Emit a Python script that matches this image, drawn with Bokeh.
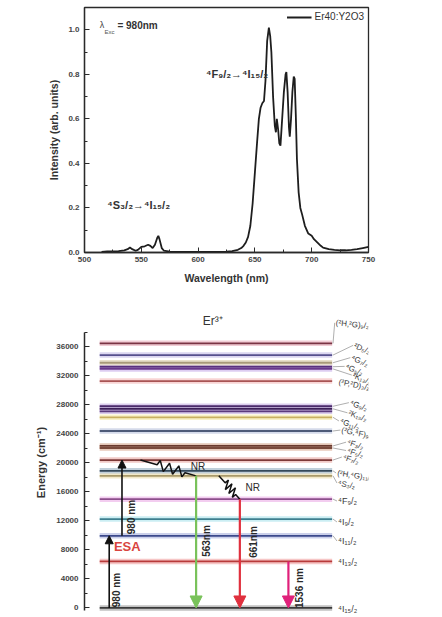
import math
from bokeh.plotting import figure
from bokeh.layouts import column
from bokeh.models import (Label, Arrow, NormalHead, SingleIntervalTicker,
                          NumeralTickFormatter)
from bokeh.embed import file_html
from bokeh.resources import INLINE

# ---------------- data: upconversion emission spectrum ----------------
wavelength = [515, 520, 525, 530, 535, 538, 540, 542, 545, 547, 550, 553, 556, 558,
              560, 562, 564, 565, 566, 568, 570, 575, 580, 590, 600, 610, 620, 625,
              630, 635, 638, 640, 642, 644, 646, 648, 650, 652, 653.5, 655, 656.5,
              658, 659.3, 660.8, 662.3, 663.5, 664.5, 666, 667.5, 668.5, 669.3,
              670.5, 671.5, 672.5, 674, 675.5, 677, 677.7, 678.8, 680, 680.7, 681.8,
              683, 684.2, 685, 686, 687, 688.5, 690, 691.6, 694, 697, 700, 702, 704,
              706, 708, 710, 715, 720, 725, 730, 735, 740, 745, 750]
intensity = [0.003, 0.005, 0.005, 0.006, 0.010, 0.015, 0.022, 0.015, 0.008, 0.012,
             0.025, 0.028, 0.035, 0.030, 0.020, 0.035, 0.065, 0.075, 0.060, 0.020,
             0.008, 0.004, 0.003, 0.003, 0.003, 0.003, 0.003, 0.004, 0.006, 0.012,
             0.020, 0.030, 0.045, 0.070, 0.120, 0.220, 0.360, 0.500, 0.600, 0.650,
             0.670, 0.680, 0.770, 0.950, 1.010, 0.970, 0.900, 0.700, 0.570, 0.540,
             0.600, 0.550, 0.490, 0.480, 0.600, 0.720, 0.800, 0.810, 0.720, 0.560,
             0.520, 0.600, 0.720, 0.790, 0.780, 0.620, 0.420, 0.270, 0.200, 0.170,
             0.120, 0.085, 0.075, 0.060, 0.050, 0.040, 0.030, 0.022, 0.015, 0.012,
             0.010, 0.010, 0.012, 0.015, 0.020, 0.025]
series_name = "Er40:Y2O3"

# ---------------- data: Er3+ energy levels ----------------
level_energy = [0, 6420, 9950, 12250, 15000, 18210, 18900, 20390, 22050, 22330,
                24390, 26280, 27100, 27450, 27800, 31270, 32950, 33250, 33800,
                34860, 36470]
level_color = ["#3a3a3a", "#b83a3a", "#3c4a8c", "#3f7f8f", "#8c4f8c", "#a89a6a",
               "#34495a", "#7d3a38", "#7a4a3c", "#6a3a2e", "#4d5a78", "#c8b060",
               "#5a3a7c", "#3c2058", "#4a2a6a", "#a85454", "#6a3a8c", "#58307e",
               "#a89a7a", "#56508e", "#7a3444"]
level_halo = ["#bbbbbb", "#f5c0c0", "#c5cbe8", "#c5ecf2", "#f2c8ee", "#efe6c2",
              "#b9cad6", "#efc3c0", "#e6c4b4", "#e0bfae", "#cfd6e8", "#f7efc0",
              "#d6c6ea", "#cbb8e0", "#d6c6ea", "#f7cfcf", "#d9c8f0", "#d9c8f0",
              "#e8dfc6", "#d6d0ee", "#f0c6d0"]

# term labels: text, label energy position, level it points to, angle
term_text = ["⁴I₁₅/₂", "⁴I₁₃/₂", "⁴I₁₁/₂", "⁴I₉/₂", "⁴F₉/₂", "⁴S₃/₂", "(²H,⁴G)₁₁/₂",
             "⁴F₇/₂", "⁴F₅/₂", "⁴F₃/₂", "(²G,⁴F)₉/₂", "⁴G₁₁/₂", "²K₁₅/₂", "⁴G₉/₂",
             "(²P,²D)₃/₂", "²K₁₃/₂", "⁴G₅/₂", "⁴G₇/₂", "²D₅/₂", "(²H,²G)₉/₂"]
term_pos = [-100, 6340, 9230, 11850, 14740, 17220, 18600, 20800, 21700, 22850,
            24520, 25770, 26900, 28300, 31180, 32100, 33300, 34500, 36200, 39300]
term_level = [0, 6420, 9950, 12250, 15000, 18210, 18900, 20390, 22050, 22330,
              24390, 26280, 27450, 27800, 31270, 32950, 33250, 33800, 34860, 36470]
term_angle = [0, 0, 0, 0, 0, -0.2, -0.15, -0.3, -0.3, -0.3, -0.2, -0.35, -0.35,
              -0.35, -0.2, -0.4, -0.4, -0.4, -0.4, -0.1]
term_x = [89.3, 89.3, 89.3, 89.3, 89.3, 89.3, 89.0, 91.0, 92.5, 92.5, 90.5, 90.0,
          93.0, 93.5, 89.5, 94.5, 92.0, 94.0, 95.0, 88.5]

# transitions: (start level, end level, label)
up_from = [0, 9950]
up_to = [9950, 20390]
up_label = ["980 nm", "980 nm"]
nr_from = [20390, 18210]
nr_to = [18210, 15000]
em_from = [18210, 15000, 6420]
em_to = [0, 0, 0]
em_label = ["563nm", "661nm", "1536 nm"]
em_color = ["#79c25a", "#e0303e", "#e0207a"]

FONT = "Liberation Sans"
DARK = "#2a2a2a"

# ======================= top: spectrum =======================
p1 = figure(width=442, height=300, x_range=(500, 750), y_range=(0, 1.1),
            output_backend="svg", toolbar_location=None,
            min_border_left=84, min_border_right=74, min_border_top=7,
            min_border_bottom=48)
p1.grid.visible = False
p1.outline_line_color = DARK
p1.outline_line_width = 1.3
p1.line(wavelength, intensity, line_color="#1e1e1e", line_width=1.8,
        legend_label=series_name)

p1.xaxis.ticker = SingleIntervalTicker(interval=50, num_minor_ticks=2)
p1.yaxis.ticker = SingleIntervalTicker(interval=0.2, num_minor_ticks=2)
p1.yaxis.formatter = NumeralTickFormatter(format="0.0")
for ax in (p1.xaxis[0], p1.yaxis[0]):
    ax.axis_line_color = DARK
    ax.axis_line_width = 1.3
    ax.major_tick_in = 5
    ax.major_tick_out = 0
    ax.minor_tick_in = 3
    ax.minor_tick_out = 0
    ax.major_tick_line_color = DARK
    ax.minor_tick_line_color = DARK
    ax.major_label_text_font = FONT
    ax.major_label_text_font_size = "8px"
    ax.major_label_text_font_style = "bold"
    ax.major_label_text_color = "#444444"
    ax.axis_label_text_font = FONT
    ax.axis_label_text_font_size = "10.5px"
    ax.axis_label_text_font_style = "bold"
    ax.axis_label_text_color = "#333333"
p1.xaxis.axis_label = "Wavelength (nm)"
p1.yaxis.axis_label = "Intensity (arb. units)"
p1.xaxis.major_label_standoff = 4
p1.yaxis.major_label_standoff = 5
p1.xaxis.axis_label_standoff = 7
p1.yaxis.axis_label_standoff = 5

lg = p1.legend[0]
lg.location = "top_right"
lg.border_line_color = None
lg.background_fill_alpha = 0
lg.label_text_font = FONT
lg.label_text_font_size = "10px"
lg.label_text_color = "#333333"
lg.glyph_width = 25
lg.glyph_height = 10
lg.margin = 4
lg.padding = 2
lg.label_standoff = 3

p1.add_layout(Label(x=513.5, y=1.02, text="λ", text_font=FONT, text_font_size="9px",
                    text_color="#444444", text_baseline="middle"))
p1.add_layout(Label(x=517.5, y=0.99, text="Exc", text_font=FONT, text_font_size="6px",
                    text_color="#555555", text_baseline="middle"))
p1.add_layout(Label(x=529, y=1.02, text="= 980nm", text_font=FONT, text_font_size="10px",
                    text_font_style="bold", text_color="#333333", text_baseline="middle"))
p1.add_layout(Label(x=607, y=0.80, text="⁴F₉/₂→⁴I₁₅/₂", text_font=FONT,
                    text_font_size="11px", text_font_style="bold",
                    text_color="#333333", text_baseline="middle"))
p1.add_layout(Label(x=520, y=0.215, text="⁴S₃/₂→⁴I₁₅/₂", text_font=FONT,
                    text_font_size="11px", text_font_style="bold",
                    text_color="#333333", text_baseline="middle"))

# ======================= bottom: energy level diagram =======================
Y0, Y1 = -900, 41000
SX, SY = 3.74, 304 / float(Y1 - Y0)   # px per data unit (used only to shape zigzags)
p2 = figure(width=442, height=317, x_range=(0, 100), y_range=(Y0, Y1),
            output_backend="svg", toolbar_location=None, x_axis_type=None,
            min_border_left=68, min_border_right=0, min_border_top=10,
            min_border_bottom=3)
p2.grid.visible = False
p2.outline_line_color = None

XS, XE = 5.35, 87.2
n = len(level_energy)
p2.segment(x0=[XS] * n, x1=[XE] * n, y0=level_energy, y1=level_energy,
           line_color=level_halo, line_width=5.5, line_alpha=0.9)
p2.segment(x0=[XS] * n, x1=[XE] * n, y0=level_energy, y1=level_energy,
           line_color=level_color, line_width=1.8)

ay = p2.yaxis[0]
ay.bounds = (-300, 38000)
ay.ticker = SingleIntervalTicker(interval=4000, num_minor_ticks=2)
ay.axis_line_color = DARK
ay.axis_line_width = 1.5
ay.major_tick_in = 5
ay.major_tick_out = 0
ay.minor_tick_in = 3
ay.minor_tick_out = 0
ay.major_tick_line_color = DARK
ay.minor_tick_line_color = DARK
ay.major_label_text_font = FONT
ay.major_label_text_font_size = "8px"
ay.major_label_text_font_style = "bold"
ay.major_label_text_color = "#444444"
ay.major_label_standoff = 6
ay.axis_label = "Energy (cm⁻¹)"
ay.axis_label_text_font = FONT
ay.axis_label_text_font_size = "11px"
ay.axis_label_text_font_style = "bold"
ay.axis_label_text_color = "#333333"
ay.axis_label_standoff = 6

p2.add_layout(Label(x=45.2, y=39500, text="Er³⁺", text_font=FONT, text_font_size="12px",
                    text_color="#333333", text_align="center", text_baseline="middle"))

# leader lines and term labels
for t, pos, lev, ang, tx in zip(term_text, term_pos, term_level, term_angle, term_x):
    if abs(pos - lev) > 250 or tx > 90:
        p2.line([XE + 0.3, tx - 0.4], [lev, pos], line_color="#9a9a9a", line_width=0.8)
    size = "9px" if ang == 0 else "8px"
    p2.add_layout(Label(x=tx, y=pos, text=t, text_font=FONT, text_font_size=size,
                        text_color="#3a3a3a", text_baseline="middle", angle=ang))

# absorption (up) arrows
up_x = [8.7, 13.2]
up_lbl_x = [11.2, 16.6]
up_lbl_y = [2480, 12540]
for x, e0, e1, lab, lx, ly in zip(up_x, up_from, up_to, up_label, up_lbl_x, up_lbl_y):
    p2.add_layout(Arrow(x_start=x, y_start=e0, x_end=x, y_end=e1, line_color="#111111",
                        line_width=1.6,
                        end=NormalHead(size=8, fill_color="#111111", line_color="#111111")))
    p2.add_layout(Label(x=lx, y=ly, text=lab, angle=math.pi / 2, text_font=FONT,
                        text_font_size="10px", text_font_style="bold", text_color=DARK,
                        text_align="center", text_baseline="middle"))

p2.add_layout(Label(x=10.35, y=8540, text="ESA", text_font=FONT, text_font_size="13px",
                    text_font_style="bold", text_color="#d9453f", text_baseline="middle"))


# non-radiative relaxation zigzags
def zigzag(x0, e0, x1, e1, teeth=3, amp=5):
    X0, Y0_, X1, Y1_ = x0 * SX, e0 * SY, x1 * SX, e1 * SY
    dx, dy = X1 - X0, Y1_ - Y0_
    L = math.hypot(dx, dy)
    px, py = -dy / L, dx / L
    ts = [0.0, 0.3]
    offs = [0.0, 0.0]
    k = 2 * teeth
    for i in range(k):
        ts.append(0.3 + 0.5 * (i + 0.5) / k)
        offs.append(amp if i % 2 == 0 else -amp)
    ts += [0.8, 1.0]
    offs += [0.0, 0.0]
    xs = [(X0 + t * dx + o * px) / SX for t, o in zip(ts, offs)]
    ys = [(Y0_ + t * dy + o * py) / SY for t, o in zip(ts, offs)]
    return xs, ys


nr_x0 = [19.7, 47.3]
nr_x1 = [39.3, 54.7]
for x0, x1, e0, e1 in zip(nr_x0, nr_x1, nr_from, nr_to):
    zx, zy = zigzag(x0, e0, x1, e1)
    p2.line(zx, zy, line_color="#111111", line_width=1.5)
p2.add_layout(Label(x=37.4, y=19560, text="NR", text_font=FONT, text_font_size="10px",
                    text_color=DARK, text_baseline="middle"))
p2.add_layout(Label(x=56.7, y=16670, text="NR", text_font=FONT, text_font_size="10px",
                    text_color=DARK, text_baseline="middle"))

# emission (down) arrows
em_x = [39.3, 54.7, 71.8]
em_lbl_x = [42.9, 59.4, 75.8]
em_lbl_y = [9230, 9090, 2750]
for x, e0, e1, c, lab, lx, ly in zip(em_x, em_from, em_to, em_color, em_label,
                                     em_lbl_x, em_lbl_y):
    p2.add_layout(Arrow(x_start=x, y_start=e0, x_end=x, y_end=e1, line_color=c,
                        line_width=2.2,
                        end=NormalHead(size=12, fill_color=c, line_color=c)))
    p2.add_layout(Label(x=lx, y=ly, text=lab, angle=math.pi / 2, text_font=FONT,
                        text_font_size="10px", text_font_style="bold", text_color=DARK,
                        text_align="center", text_baseline="middle"))

layout = column(p1, p2, spacing=0)
open("out.html", "w").write(file_html(layout, INLINE))
